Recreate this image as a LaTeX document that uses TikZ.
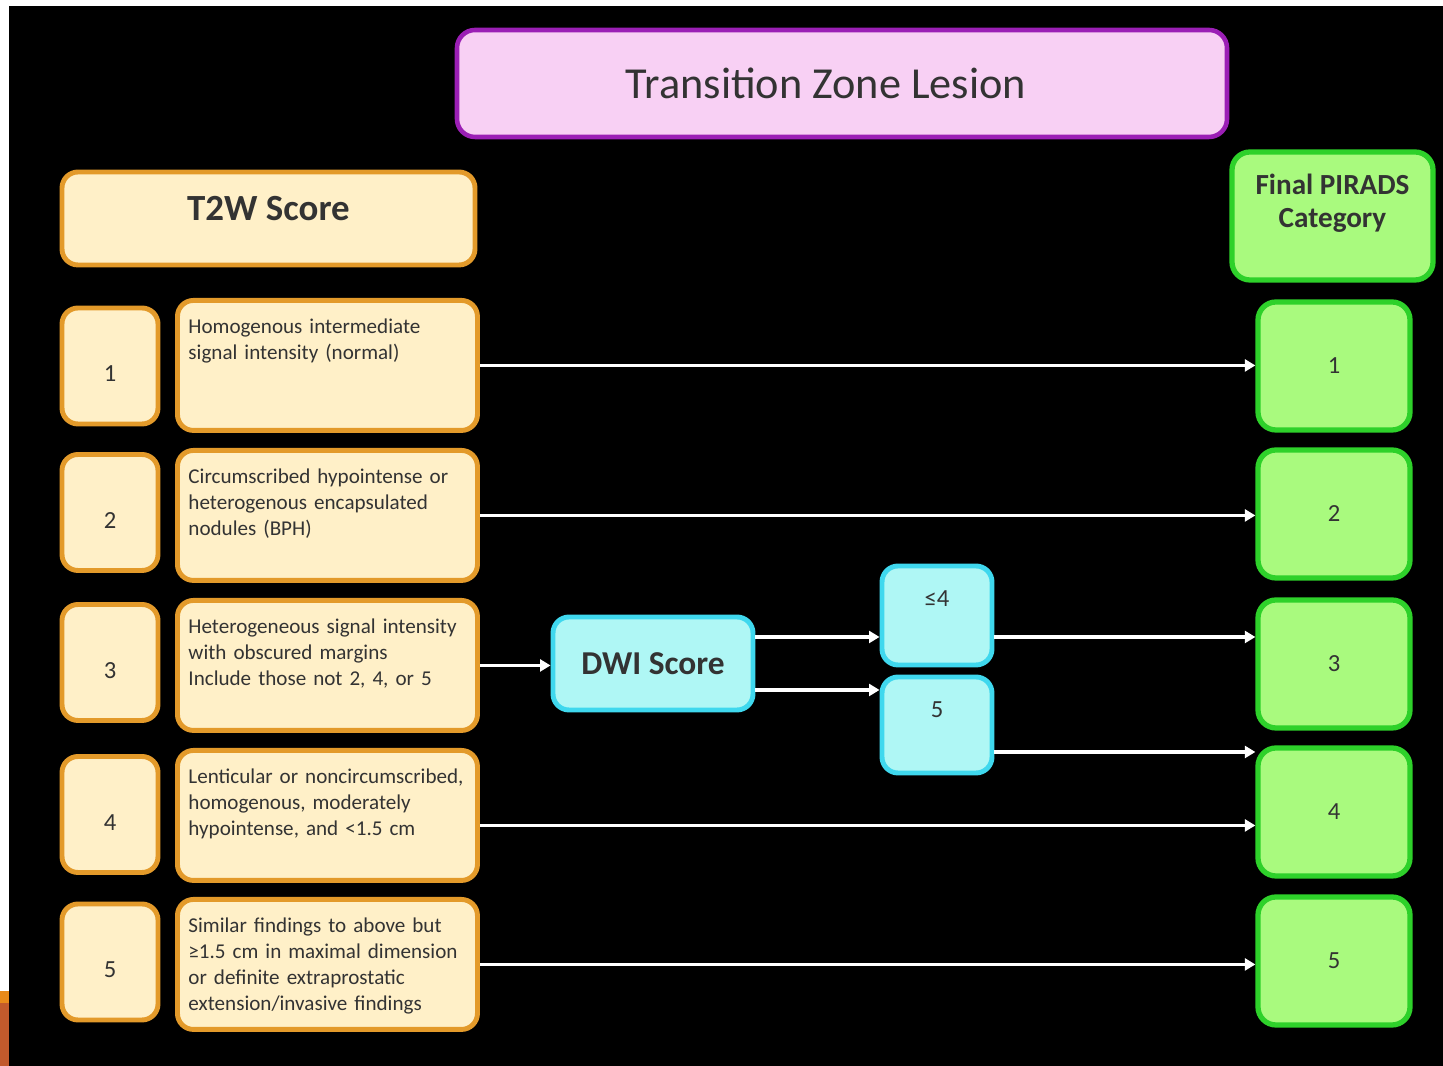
\documentclass[tikz,border=0pt]{standalone}
\usepackage{fontspec}
\setmainfont{Carlito}
\usepackage{xcolor}
\usetikzlibrary{arrows.meta}

\definecolor{titlefill}{HTML}{F8D0F4}
\definecolor{titleedge}{HTML}{9B1FB5}
\definecolor{t2wfill}{HTML}{FFF0C8}
\definecolor{t2wedge}{HTML}{E39A2A}
\definecolor{finalfill}{HTML}{A9FA7E}
\definecolor{finaledge}{HTML}{2ED12A}
\definecolor{dwifill}{HTML}{AFF7F5}
\definecolor{dwiedge}{HTML}{3FD8EE}
\definecolor{boxtext}{HTML}{333333}
\definecolor{stripA}{HTML}{E88A1A}
\definecolor{stripB}{HTML}{C25A2C}

\begin{document}
\begin{tikzpicture}[
  t2wbox/.style={draw=t2wedge, fill=t2wfill, line width=1.4pt, rounded corners=0.16cm, text=boxtext},
  numbox/.style={t2wbox, minimum width=0.96cm, minimum height=1.16cm, text height=0.32cm, text depth=0cm,
    font=\fontsize{7}{8}\selectfont},
  descbox/.style={t2wbox, anchor=north west, text width=2.78cm, inner xsep=0.11cm, inner ysep=0.1cm,
    align=left, text height=0.23cm, text depth=0.87cm, font=\fontsize{6}{7.4}\selectfont},
  finalbox/.style={draw=finaledge, fill=finalfill, line width=1.5pt, rounded corners=0.18cm, text=boxtext,
    minimum width=1.52cm, minimum height=1.28cm, font=\fontsize{7}{8}\selectfont},
  dwibox/.style={draw=dwiedge, fill=dwifill, line width=1.4pt, rounded corners=0.16cm, text=boxtext},
  cutbox/.style={dwibox, minimum width=1.10cm, inner ysep=0pt, text height=0.41cm,
    font=\fontsize{7}{8}\selectfont},
  flow/.style={draw=white, line width=0.9pt, -{Triangle[length=3pt,width=3.4pt]}}
]
\useasboundingbox (0,0) rectangle (14.43,10.66);
\fill[white] (0,0) rectangle (14.43,10.66);
\fill[black] (0.09,0) rectangle (14.43,10.60);
\fill[stripA] (0,0.63) rectangle (0.09,0.75);
\fill[stripB] (0,0) rectangle (0.09,0.63);

\node (title) at (8.42,9.825) [draw=titleedge, fill=titlefill, line width=1.3pt, rounded corners=0.18cm,
  minimum width=7.70cm, minimum height=1.07cm, text=boxtext, font=\fontsize{12.6}{14}\selectfont] {Transition Zone Lesion\kern0.32cm};

\node (t2w) at (2.685,8.475) [t2wbox, minimum width=4.13cm, minimum height=0.93cm, text depth=0.2cm,
  font=\fontsize{10.5}{12}\bfseries] {T2W Score};

\node (n1) at (1.10,7.00) [numbox] {1};
\node (n2) at (1.10,5.535) [numbox] {2};
\node (n3) at (1.10,4.035) [numbox] {3};
\node (n4) at (1.10,2.515) [numbox] {4};
\node (n5) at (1.10,1.04) [numbox] {5};

\node (d1) at (1.75,7.68) [descbox] {Homogenous intermediate\\signal intensity (normal)};
\node (d2) at (1.75,6.18) [descbox] {Circumscribed hypointense or\\heterogenous encapsulated\\nodules (BPH)};
\node (d3) at (1.75,4.68) [descbox] {Heterogeneous signal intensity\\with obscured margins\\Include those not 2, 4, or 5};
\node (d4) at (1.75,3.18) [descbox] {Lenticular or noncircumscribed,\\homogenous, moderately\\hypointense, and <1.5 cm};
\node (d5) at (1.75,1.69) [descbox] {Similar findings to above but\\≥1.5 cm in maximal dimension\\or definite extraprostatic\\extension/invasive findings};

\node (dwi) at (6.53,4.025) [dwibox, minimum width=2.00cm, minimum height=0.93cm,
  font=\fontsize{9.5}{11}\bfseries] {DWI Score};
\node (le4) at (9.37,4.505) [cutbox, text depth=0.58cm] {≤4};
\node (eq5) at (9.37,3.41) [cutbox, text depth=0.55cm] {5};

\node (final) at (13.325,8.50) [finalbox, minimum width=2.01cm, align=center, text depth=0.3cm,
  font=\fontsize{8.3}{9.4}\bfseries] {Final PIRADS\\Category};
\node (g1) at (13.34,7.00) [finalbox] {1};
\node (g2) at (13.34,5.52) [finalbox] {2};
\node (g3) at (13.34,4.02) [finalbox] {3};
\node (g4) at (13.34,2.54) [finalbox] {4};
\node (g5) at (13.34,1.05) [finalbox] {5};

\draw [flow] (d1.east) -- (d1.east -| g1.west);
\draw [flow] (d2.east) -- (d2.east -| g2.west);
\draw [flow] (d3.east) -- (d3.east -| dwi.west);
\draw [flow] ([yshift=0.265cm]dwi.east) -- ([yshift=0.265cm]dwi.east -| le4.west);
\draw [flow] ([yshift=-0.265cm]dwi.east) -- ([yshift=-0.265cm]dwi.east -| eq5.west);
\draw [flow] ([yshift=-0.215cm]le4.east) -- ([yshift=-0.215cm]le4.east -| g3.west);
\draw [flow] ([yshift=-0.27cm]eq5.east) -- ([yshift=-0.27cm]eq5.east -| g4.west);
\draw [flow] ([yshift=-0.1cm]d4.east) -- ([yshift=-0.1cm]d4.east -| g4.west);
\draw [flow] (d5.east) -- (d5.east -| g5.west);
\end{tikzpicture}
\end{document}
